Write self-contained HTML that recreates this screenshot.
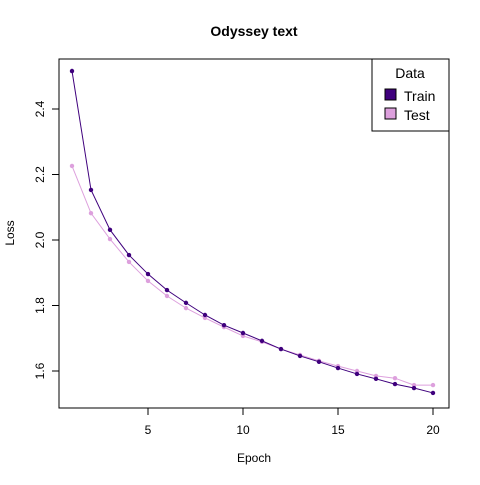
<!DOCTYPE html>
<html><head><meta charset="utf-8"><style>
body{margin:0;background:#fff;}
svg text{font-family:"Liberation Sans",Arial,sans-serif;}
</style></head><body>
<svg id="chart" width="480" height="480" xmlns="http://www.w3.org/2000/svg">
<rect width="480" height="480" fill="#fff"/>
<text x="254" y="36" text-anchor="middle" font-size="14" font-weight="bold">Odyssey text</text>
<rect x="59" y="59" width="390" height="349" fill="none" stroke="#000"/>
<g id="xaxis"></g>
<g id="yaxis"></g>
<text x="254" y="462" text-anchor="middle" font-size="12">Epoch</text>
<text transform="translate(14,233) rotate(-90)" text-anchor="middle" font-size="12">Loss</text>
<g id="series"></g>
<g>
<rect x="372" y="59" width="77" height="72" fill="#fff" stroke="#000"/>
<text x="410" y="78" text-anchor="middle" font-size="14">Data</text>
<g><rect x="385" y="89" width="11" height="11" fill="#3f007d" stroke="#000"/><text x="404" y="101" font-size="14">Train</text></g>
<g><rect x="385" y="108" width="11" height="11" fill="#dda0dd" stroke="#000"/><text x="404" y="120" font-size="14">Test</text></g>
</g>
</svg>
<script>
const epochs=[1,2,3,4,5,6,7,8,9,10,11,12,13,14,15,16,17,18,19,20];
const trainLoss=[2.516,2.153,2.031,1.954,1.896,1.847,1.808,1.771,1.740,1.716,1.692,1.667,1.646,1.628,1.609,1.591,1.576,1.560,1.548,1.533];
const testLoss=[2.226,2.082,2.003,1.933,1.875,1.829,1.792,1.762,1.734,1.707,1.689,1.667,1.649,1.631,1.615,1.600,1.585,1.578,1.557,1.557];
const xTicks=[5,10,15,20];
const yTicks=[1.6,1.8,2.0,2.2,2.4];
const yTickLabels=["1.6","1.8","2.0","2.2","2.4"];
const NS="http://www.w3.org/2000/svg";
function sx(v){return 72+(v-1)*19;}
function sy(v){return 371-(v-1.6)/0.2*65.5;}
function mk(t,a,p){const e=document.createElementNS(NS,t);for(const k in a)e.setAttribute(k,a[k]);p.appendChild(e);return e;}
const xa=document.getElementById('xaxis'),ya=document.getElementById('yaxis');
mk('line',{x1:sx(xTicks[0]),x2:sx(xTicks[xTicks.length-1]),y1:408,y2:408,stroke:'#000'},xa);
xTicks.forEach(t=>{mk('line',{x1:sx(t),x2:sx(t),y1:408,y2:415,stroke:'#000'},xa);
const tx=mk('text',{x:sx(t),y:434,'text-anchor':'middle','font-size':12},xa);tx.textContent=t;

});
mk('line',{x1:59,x2:59,y1:sy(yTicks[0]),y2:sy(yTicks[yTicks.length-1]),stroke:'#000'},ya);
yTicks.forEach((t,i)=>{mk('line',{x1:52,x2:59,y1:sy(t),y2:sy(t),stroke:'#000'},ya);
const tx=mk('text',{transform:`translate(44,${sy(t)}) rotate(-90)`,'text-anchor':'middle','font-size':12},ya);tx.textContent=yTickLabels[i];

});
const sg=document.getElementById('series');
function draw(vals,col,name){
const g=mk('g',{},sg);


mk('polyline',{points:vals.map((v,i)=>sx(epochs[i])+','+sy(v)).join(' '),fill:'none',stroke:col,'stroke-width':1},g);
vals.forEach((v,i)=>{const c=mk('circle',{cx:sx(epochs[i]),cy:sy(v),r:2.2,fill:col},g);

});}
draw(testLoss,'#dda0dd','test');
draw(trainLoss,'#3f007d','train');
</script>
</body></html>
